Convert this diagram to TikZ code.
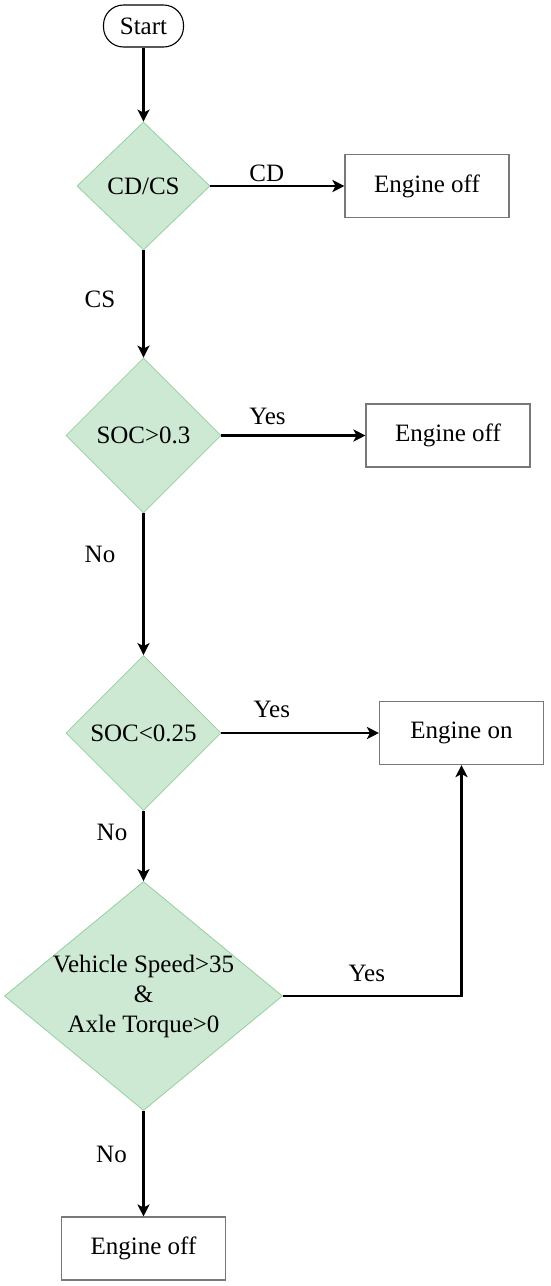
\documentclass[tikz,border=0pt]{standalone}
\usepackage{fontspec}
\setmainfont{Liberation Serif}
\usetikzlibrary{arrows.meta,shapes.geometric,positioning}
\definecolor{decfill}{RGB}{205,232,211}
\definecolor{decline}{RGB}{150,208,160}
\definecolor{boxline}{RGB}{120,120,120}

\begin{document}
\begin{tikzpicture}[x=1pt, y=-1pt, >={Stealth[length=12pt,width=12pt,inset=3pt]}, line width=2.2pt,
    font=\fontsize{25}{30}\selectfont,
    startbox/.style={rectangle, rounded corners=20pt, draw, line width=1.1pt, minimum width=80pt, minimum height=42pt, inner sep=0pt},
    decision/.style={diamond, draw=decline, fill=decfill, line width=0.8pt, inner sep=0pt},
    action/.style={rectangle, draw=boxline, line width=1.1pt, minimum width=164pt, minimum height=63pt, inner sep=0pt},
    lbl/.style={inner sep=0pt}]
    \useasboundingbox (0,0) rectangle (550,1286);

    % 开始与判断框
    \node[startbox] (start) at (143.5,26) {Start};
    \node[decision, minimum width=133pt, minimum height=128pt] (cdcs) at (143.5,186) {CD/CS};
    \node[decision, minimum width=155pt, minimum height=155pt] (soc1) at (143.5,435.5) {SOC>0.3};
    \node[decision, minimum width=155pt, minimum height=155pt] (soc2) at (143.5,733) {SOC<0.25};
    \node[decision, minimum width=278pt, minimum height=229pt,
          label={[lbl, align=center]center:{Vehicle Speed>35\\\&\\Axle Torque>0}}] (speed) at (143.5,996) {};

    % 结果框
    \node[action] (off1) at (427,186) {Engine off};
    \node[action] (off2) at (448,435.5) {Engine off};
    \node[action] (on) at (461.5,733) {Engine on};
    \node[action] (off3) at (143.5,1248.5) {Engine off};

    % 主干箭头
    \draw[->] (start.south) -- (cdcs.north);
    \draw[->] (cdcs.south) -- (soc1.north) node[lbl, pos=0.46, xshift=-43.5pt] {CS};
    \draw[->] (soc1.south) -- (soc2.north) node[lbl, pos=0.29, xshift=-43.5pt] {No};
    \draw[->] (soc2.south) -- (speed.north) node[lbl, pos=0.31, xshift=-31.5pt] {No};
    \draw[->] (speed.south) -- (off3.north) node[lbl, pos=0.41, xshift=-32pt] {No};

    % 分支箭头
    \draw[->] (cdcs.east) -- (off1.west) node[lbl, pos=0.42, yshift=13pt] {CD};
    \draw[->] (soc1.east) -- (off2.west) node[lbl, pos=0.32, yshift=19.5pt] {Yes};
    \draw[->] (soc2.east) -- (on.west) node[lbl, pos=0.32, yshift=24pt] {Yes};
    \draw[->] (speed.east) -| (on.south) node[lbl, pos=0.235, yshift=23pt] {Yes};
\end{tikzpicture}
\end{document}
